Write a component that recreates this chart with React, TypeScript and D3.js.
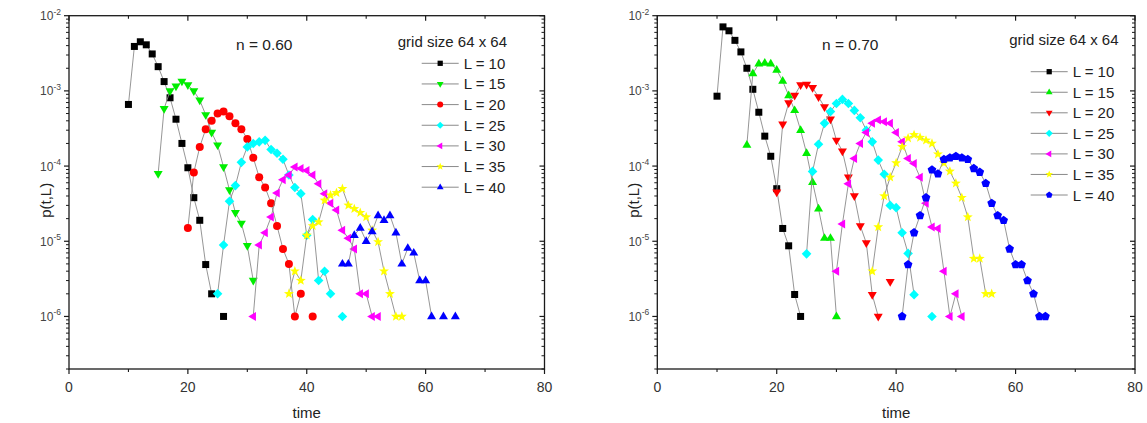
import React from 'react';
import * as d3 from 'd3';

// ---------- data ----------
const legendLabels = ['L = 10', 'L = 15', 'L = 20', 'L = 25', 'L = 30', 'L = 35', 'L = 40'];
const seriesColors = ['#000000', '#00ee00', '#ff0000', '#00ffff', '#ff00ff', '#ffff00', '#0000ff'];
const xTickValues = [0, 20, 40, 60, 80];
const xMinorTickValues = [10, 30, 50, 70];
const yDecadeExps = [-2, -3, -4, -5, -6];

// panel n = 0.60
const leftStarts = [10, 15, 20, 25, 31, 37, 46];
const leftL10 = [6.6e-4, 3.9e-3, 4.5e-3, 4.1e-3, 3.1e-3, 2.1e-3, 1.33e-3, 8.1e-4, 4.2e-4, 2.0e-4, 9.5e-5, 3.8e-5, 1.9e-5, 4.9e-6, 2.0e-6, null, 1.0e-6];
const leftL15 = [7.9e-5, 5.8e-4, 1.0e-3, 1.15e-3, 1.34e-3, 1.2e-3, 1.0e-3, 7.5e-4, 4.8e-4, 2.8e-4, 1.9e-4, 9.7e-5, 4.8e-5, 2.4e-5, 1.73e-5, 8.7e-6, 3.0e-6];
const leftL20 = [1.5e-5, 8.2e-5, 1.8e-4, 3.1e-4, 4.0e-4, 5.0e-4, 5.3e-4, 4.6e-4, 3.7e-4, 3.1e-4, 2.3e-4, 1.29e-4, 7.1e-5, 5.2e-5, 3.2e-5, 1.6e-5, 7.9e-6, 5.0e-6, 1.0e-6, 2.0e-6, null, 1.0e-6];
const leftL25 = [2.0e-6, 8.9e-6, 3.4e-5, 5.5e-5, 1.12e-4, 1.8e-4, 2.0e-4, 2.1e-4, 2.2e-4, 1.66e-4, 1.48e-4, 1.23e-4, 7.6e-5, 5.2e-5, 4.3e-5, 1.2e-5, 1.94e-5, 3.0e-6, 4.0e-6, 2.0e-6, null, 1.0e-6];
const leftL30 = [1.0e-6, 8.9e-6, 1.3e-5, 2.1e-5, 4.4e-5, 6.6e-5, 7.6e-5, 9.7e-5, 9.3e-5, 8.7e-5, 7.6e-5, 5.8e-5, 4.3e-5, 3.2e-5, 2.6e-5, 1.4e-5, 1.1e-5, 7.9e-6, 2.0e-6, 2.0e-6, 1.0e-6, 1.0e-6];
const leftL35 = [2.0e-6, 4.0e-6, 3.0e-6, 1.2e-5, 1.6e-5, 1.8e-5, 3.5e-5, 4.1e-5, 4.4e-5, 5.0e-5, 3.0e-5, 2.7e-5, 2.4e-5, 2.1e-5, 1.4e-5, 9.8e-6, 4.0e-6, 2.0e-6, 1.0e-6, 1.0e-6];
const leftL40 = [5.0e-6, 5.0e-6, 1.2e-5, 1.5e-5, 1.0e-5, 1.35e-5, 2.2e-5, 1.9e-5, 2.2e-5, 1.3e-5, 5.0e-6, 8.1e-6, 7.0e-6, 3.0e-6, 3.0e-6, 1.0e-6, null, 1.0e-6, null, 1.0e-6];
const leftShapes = ['square', 'triDown', 'circle', 'diamond', 'triLeft', 'star', 'triUp'];

// panel n = 0.70
const rightStarts = [10, 15, 20, 25, 30, 36, 41];
const rightL10 = [8.5e-4, 7.1e-3, 6.3e-3, 4.7e-3, 3.3e-3, 2.0e-3, 1.05e-3, 5.2e-4, 2.5e-4, 1.35e-4, 5.0e-5, 1.48e-5, 8.7e-6, 1.96e-6, 1.0e-6];
const rightL15 = [1.9e-4, 1.7e-3, 2.3e-3, 2.35e-3, 2.3e-3, 1.9e-3, 1.35e-3, 8.7e-4, 5.5e-4, 3.0e-4, 1.48e-4, 6.1e-5, 2.7e-5, 1.1e-5, 1.1e-5, 1.0e-6];
const rightL20 = [4.5e-5, 3.6e-4, 6.9e-4, 8.7e-4, 1.2e-3, 1.22e-3, 1.1e-3, 8.3e-4, 6.1e-4, 4.2e-4, 2.2e-4, 1.58e-4, 7.1e-5, 4.0e-5, 1.6e-5, 9.5e-6, 1.95e-6, 1.0e-6, null, 2.9e-6];
const rightL25 = [6.8e-6, 8.5e-5, 1.95e-4, 3.7e-4, 5.3e-4, 6.8e-4, 7.7e-4, 6.8e-4, 5.5e-4, 4.4e-4, 3.0e-4, 2.1e-4, 1.2e-4, 7.8e-5, 3.0e-5, 2.8e-5, 1.3e-5, 6.9e-6, 1.95e-6, null, null, 1.0e-6];
const rightL30 = [4.0e-6, 1.7e-5, 5.8e-5, 1.26e-4, 2.0e-4, 2.8e-4, 3.7e-4, 4.1e-4, 3.9e-4, 3.7e-4, 2.8e-4, 2.1e-4, 1.26e-4, 1.08e-4, 7.1e-5, 3.2e-5, 1.55e-5, 1.48e-5, 4.0e-6, 1.0e-6, 2.0e-6, 1.0e-6];
const rightL35 = [4.0e-6, 1.55e-5, 4.0e-5, 7.1e-5, 1.1e-4, 1.8e-4, 2.35e-4, 2.6e-4, 2.4e-4, 2.2e-4, 2.0e-4, 1.44e-4, 1.1e-4, 8.5e-5, 5.9e-5, 3.8e-5, 2.1e-5, 5.9e-6, 5.9e-6, 2.0e-6, 2.0e-6];
const rightL40 = [1.0e-6, 4.9e-6, 1.3e-5, 2.2e-5, 3.8e-5, 8.9e-5, 7.9e-5, 1.23e-4, 1.29e-4, 1.35e-4, 1.29e-4, 1.23e-4, 9.3e-5, 8.3e-5, 5.9e-5, 3.2e-5, 2.2e-5, 1.9e-5, 7.9e-6, 4.9e-6, 4.9e-6, 3.0e-6, 2.0e-6, 1.0e-6, 1.0e-6];
const rightShapes = ['square', 'triUp', 'triDown', 'diamond', 'triLeft', 'star', 'pentagon'];

// ---------- helpers ----------
const FONT = '"Liberation Sans", Arial, Helvetica, sans-serif';

function polygon(pts: number[][]) {
  return 'M' + pts.map((p) => `${p[0].toFixed(2)},${p[1].toFixed(2)}`).join('L') + 'Z';
}

function shapePath(shape: string, s: number) {
  switch (shape) {
    case 'square':
      return polygon([[-3.5 * s, -3.5 * s], [3.5 * s, -3.5 * s], [3.5 * s, 3.5 * s], [-3.5 * s, 3.5 * s]]);
    case 'circle': {
      const r = 4.0 * s;
      return `M${r},0A${r},${r},0,1,1,${-r},0A${r},${r},0,1,1,${r},0Z`;
    }
    case 'triUp':
      return polygon([[0, -5.0 * s], [4.5 * s, 2.7 * s], [-4.5 * s, 2.7 * s]]);
    case 'triDown':
      return polygon([[0, 5.0 * s], [4.5 * s, -2.7 * s], [-4.5 * s, -2.7 * s]]);
    case 'triLeft':
      return polygon([[-5.0 * s, 0], [2.7 * s, -4.5 * s], [2.7 * s, 4.5 * s]]);
    case 'diamond':
      return polygon([[0, -4.8 * s], [4.8 * s, 0], [0, 4.8 * s], [-4.8 * s, 0]]);
    case 'star': {
      const pts: number[][] = [];
      for (let i = 0; i < 10; i++) {
        const r = (i % 2 === 0 ? 5.2 : 2.2) * s;
        const a = -Math.PI / 2 + (i * Math.PI) / 5;
        pts.push([r * Math.cos(a), r * Math.sin(a)]);
      }
      return polygon(pts);
    }
    case 'pentagon': {
      const pts: number[][] = [];
      for (let i = 0; i < 5; i++) {
        const a = -Math.PI / 2 + (i * 2 * Math.PI) / 5;
        pts.push([4.6 * s * Math.cos(a), 4.6 * s * Math.sin(a)]);
      }
      return polygon(pts);
    }
  }
  return '';
}

type PanelProps = {
  x0: number;
  x1: number;
  y0: number;
  y1: number;
  starts: number[];
  series: (number | null)[][];
  shapes: string[];
  nLabel: string;
  nX: number;
  yLabelX: number;
  legendLineX: number;
  legendY0: number;
  legendDy: number;
  gridRight: number;
  gridY: number;
};

function Panel(p: PanelProps) {
  const x = d3.scaleLinear().domain([0, 80]).range([p.x0, p.x1]);
  const y = d3.scaleLog().domain([2e-7, 1e-2]).range([p.y1, p.y0]);
  const axisColor = '#1a1a1a';

  const minorY: number[] = [];
  for (let e = -7; e <= -3; e++) {
    for (let k = 2; k <= 9; k++) {
      const v = k * Math.pow(10, e);
      if (v >= 2e-7 && v < 1e-2) minorY.push(v);
    }
  }

  const line = d3
    .line<{ t: number; v: number | null }>()
    .defined((d) => d.v != null)
    .x((d) => x(d.t))
    .y((d) => y(d.v as number));

  return (
    <g>
      {/* series */}
      {p.series.map((vals, si) => {
        const pts = vals.map((v, i) => ({ t: p.starts[si] + i, v }));
        return (
          <g key={si}>
            <path d={line(pts) || ''} fill="none" stroke="#8a8a8a" strokeWidth={0.9} />
            {pts
              .filter((d) => d.v != null)
              .map((d, i) => (
                <path
                  key={i}
                  d={shapePath(p.shapes[si], 1)}
                  transform={`translate(${x(d.t)},${y(d.v as number)})`}
                  fill={seriesColors[si]}
                />
              ))}
          </g>
        );
      })}

      {/* frame */}
      <rect x={p.x0} y={p.y0} width={p.x1 - p.x0} height={p.y1 - p.y0} fill="none" stroke={axisColor} strokeWidth={1.3} />

      {/* x ticks bottom (out) and top (in) */}
      {xTickValues.map((t) => (
        <g key={'xt' + t}>
          <line x1={x(t)} x2={x(t)} y1={p.y1} y2={p.y1 + 5} stroke={axisColor} strokeWidth={1.2} />
          <line x1={x(t)} x2={x(t)} y1={p.y0} y2={p.y0 + 5} stroke={axisColor} strokeWidth={1.2} />
          <text x={x(t)} y={p.y1 + 23} textAnchor="middle" fontSize={14} fill="#333" fontFamily={FONT}>
            {t}
          </text>
        </g>
      ))}
      {xMinorTickValues.map((t) => (
        <g key={'xm' + t}>
          <line x1={x(t)} x2={x(t)} y1={p.y1} y2={p.y1 + 3} stroke={axisColor} strokeWidth={1.1} />
          <line x1={x(t)} x2={x(t)} y1={p.y0} y2={p.y0 + 3} stroke={axisColor} strokeWidth={1.1} />
        </g>
      ))}

      {/* y ticks left (out) and right (in) */}
      {yDecadeExps.map((e) => {
        const v = Math.pow(10, e);
        const yy = y(v);
        return (
          <g key={'yt' + e}>
            <line x1={p.x0 - 5} x2={p.x0} y1={yy} y2={yy} stroke={axisColor} strokeWidth={1.2} />
            <line x1={p.x1 - 5} x2={p.x1} y1={yy} y2={yy} stroke={axisColor} strokeWidth={1.2} />
            <text x={p.x0 - 8} y={yy + 4.5} textAnchor="end" fontSize={12} fill="#444" fontFamily={FONT}>
              10
              <tspan dy={-5.5} fontSize={8.5}>
                {String(e)}
              </tspan>
            </text>
          </g>
        );
      })}
      {minorY.map((v, i) => (
        <g key={'ym' + i}>
          <line x1={p.x0 - 3} x2={p.x0} y1={y(v)} y2={y(v)} stroke={axisColor} strokeWidth={1} />
          <line x1={p.x1 - 3} x2={p.x1} y1={y(v)} y2={y(v)} stroke={axisColor} strokeWidth={1} />
        </g>
      ))}

      {/* axis titles */}
      <text x={(p.x0 + p.x1) / 2} y={p.y1 + 49} textAnchor="middle" fontSize={15} fill="#222" fontFamily={FONT}>
        time
      </text>
      <text
        transform={`translate(${p.yLabelX},${(p.y0 + p.y1) / 2 + 8}) rotate(-90)`}
        textAnchor="middle"
        fontSize={15}
        fill="#222"
        fontFamily={FONT}
      >
        p(t,L)
      </text>

      {/* annotations */}
      <text x={p.nX} y={50} fontSize={15.5} fill="#222" fontFamily={FONT}>
        {p.nLabel}
      </text>
      <text x={p.gridRight} y={p.gridY + 5} textAnchor="end" fontSize={15} fill="#222" fontFamily={FONT}>
        grid size 64 x 64
      </text>

      {/* legend */}
      {legendLabels.map((lab, i) => {
        const ly = p.legendY0 + i * p.legendDy;
        return (
          <g key={'lg' + i}>
            <line x1={p.legendLineX} x2={p.legendLineX + 37} y1={ly} y2={ly} stroke="#8a8a8a" strokeWidth={1} />
            <path d={shapePath(p.shapes[i], 0.75)} transform={`translate(${p.legendLineX + 18.5},${ly})`} fill={seriesColors[i]} />
            <text x={p.legendLineX + 42} y={ly + 5.5} fontSize={15} fill="#222" fontFamily={FONT}>
              {lab}
            </text>
          </g>
        );
      })}
    </g>
  );
}

export default function App() {
  return (
    <svg
      width={1147}
      height={423}
      style={{ position: 'absolute', left: 0, top: 0, background: '#fff' }}
      xmlns="http://www.w3.org/2000/svg"
    >
      <rect width={1147} height={423} fill="#fff" />
      <Panel
        x0={69}
        x1={544.5}
        y0={15.7}
        y1={369}
        starts={leftStarts}
        series={[leftL10, leftL15, leftL20, leftL25, leftL30, leftL35, leftL40]}
        shapes={leftShapes}
        nLabel="n = 0.60"
        nX={236}
        yLabelX={51}
        legendLineX={421.7}
        legendY0={63.3}
        legendDy={20.65}
        gridRight={507}
        gridY={41.7}
      />
      <Panel
        x0={657.3}
        x1={1135}
        y0={15.7}
        y1={369}
        starts={rightStarts}
        series={[rightL10, rightL15, rightL20, rightL25, rightL30, rightL35, rightL40]}
        shapes={rightShapes}
        nLabel="n = 0.70"
        nX={822}
        yLabelX={639}
        legendLineX={1030.7}
        legendY0={71.7}
        legendDy={20.55}
        gridRight={1118.5}
        gridY={40}
      />
    </svg>
  );
}
